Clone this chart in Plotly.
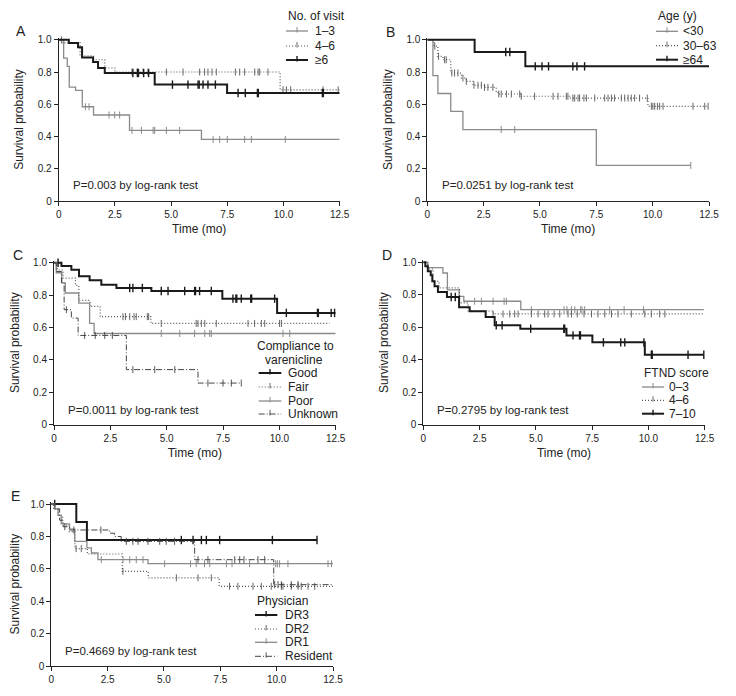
import plotly.graph_objects as go

W, H = 736, 696
FONT = "Liberation Sans, Arial, sans-serif"

# ---------------- data ----------------
X_TICKS = [0, 2.5, 5.0, 7.5, 10.0, 12.5]
X_TICKTEXT = ["0", "2.5", "5.0", "7.5", "10.0", "12.5"]
Y_TICKS = [0, 0.2, 0.4, 0.6, 0.8, 1.0]
Y_TICKTEXT = ["0", "0.2", "0.4", "0.6", "0.8", "1.0"]

# Panel A : No. of visit
A_13_t = [0, 0.22, 0.38, 0.47, 0.75, 1.05, 1.55, 3.15, 6.35]
A_13_s = [1.0, 0.886, 0.835, 0.707, 0.687, 0.585, 0.534, 0.439, 0.383]
A_13_end = 12.5
A_13_cens = [1.19, 1.35, 2.24, 2.49, 2.71, 3.26, 3.68, 4.2, 4.27, 4.79, 5.38,
             6.87, 7.16, 7.5, 8.27, 8.57, 10.08]
A_46_t = [0, 0.15, 0.95, 1.55, 2.05, 2.5, 9.85]
A_46_s = [1.0, 0.98, 0.9, 0.876, 0.825, 0.80, 0.69]
A_46_end = 12.5
A_46_cens = [0.12, 3.26, 3.5, 3.75, 3.97, 4.79, 5.53, 6.27, 6.49, 6.64, 6.82, 7.01,
             7.86, 8.05, 8.27, 8.72, 8.87, 8.94, 9.31, 9.98, 10.13, 10.32, 11.76, 12.43]
A_6_t = [0, 0.45, 0.86, 1.04, 1.53, 1.75, 2.05, 4.27, 7.49]
A_6_s = [1.0, 0.979, 0.953, 0.89, 0.862, 0.825, 0.794, 0.722, 0.67]
A_6_end = 12.5
A_6_cens = [3.3, 3.5, 3.55, 3.78, 4.0, 5.06, 5.75, 6.2, 6.25, 6.42, 6.64, 6.97,
            7.98, 8.3, 8.84, 8.88, 11.73, 11.77]

# Panel B : Age (y)
B_30_t = [0, 0.25, 0.47, 1.04, 1.58, 7.5]
B_30_s = [1.0, 0.778, 0.667, 0.556, 0.444, 0.222]
B_30_end = 11.69
B_30_cens = [3.28, 3.88, 11.69]
B_3063_t = [0, 0.3, 0.47, 0.7, 1.04, 1.51, 1.73, 2.03, 2.54, 3.06, 3.14, 4.17, 6.32, 9.79]
B_3063_s = [1.0, 0.96, 0.897, 0.876, 0.794, 0.763, 0.742, 0.718, 0.705, 0.68, 0.664,
            0.65, 0.639, 0.588]
B_3063_end = 12.45
B_3063_cens = [0.33, 0.5, 0.77, 0.84, 1.09, 1.21, 1.36, 1.58, 1.73, 2.07, 2.25, 2.4,
               2.54, 2.69, 2.91, 3.17, 3.28, 3.51, 3.73, 4.1, 4.17, 4.76, 5.58, 5.8,
               6.17, 6.24, 6.46, 6.54, 6.69, 6.76, 6.95, 7.06, 7.43, 7.87, 8.02, 8.17,
               8.31, 8.61, 8.76, 8.91, 9.05, 9.2, 9.42, 9.76, 9.94, 10.01, 10.09,
               10.21, 10.31, 10.46, 11.79, 12.31, 12.46]
B_64_t = [0, 2.1, 4.35]
B_64_s = [1.0, 0.924, 0.835]
B_64_end = 12.5
B_64_cens = [3.48, 3.66, 4.79, 5.09, 5.38, 6.46, 6.64, 6.98]

# Panel C : Compliance to varenicline
C_good_t = [0, 0.33, 0.77, 1.11, 1.58, 2.1, 2.77, 4.32, 7.47, 9.9]
C_good_s = [1.0, 0.979, 0.957, 0.916, 0.891, 0.864, 0.844, 0.825, 0.778, 0.69]
C_good_end = 12.5
C_good_cens = [0.18, 3.36, 3.5, 3.92, 4.76, 5.06, 5.8, 6.24, 6.28, 6.46, 6.98, 7.94,
               8.07, 8.11, 8.31, 8.73, 8.77, 9.79, 10.31, 11.69, 11.73, 12.3, 12.45]
C_fair_t = [0, 0.15, 0.4, 0.95, 1.1, 1.6, 2.05, 4.3]
C_fair_s = [1.0, 0.955, 0.905, 0.86, 0.767, 0.73, 0.667, 0.625]
C_fair_end = 12.23
C_fair_cens = [3.06, 3.17, 3.36, 3.55, 3.65, 4.14, 4.2, 4.76, 6.31, 6.39, 6.54, 6.69,
               7.2, 8.61, 8.9, 9.2, 9.35, 10.01, 10.09]
C_poor_t = [0, 0.1, 0.35, 0.5, 1.1, 1.58, 1.78]
C_poor_s = [1.0, 0.938, 0.875, 0.813, 0.75, 0.625, 0.563]
C_poor_end = 12.5
C_poor_cens = [4.76, 5.58, 6.24, 6.69, 6.91, 6.98, 10.16, 10.46]
C_unk_t = [0, 0.1, 0.33, 0.45, 0.77, 1.07, 3.21, 6.39]
C_unk_s = [1.0, 0.946, 0.875, 0.71, 0.658, 0.551, 0.34, 0.257]
C_unk_end = 8.31
C_unk_cens = [0.55, 1.36, 1.83, 2.25, 2.59, 3.5, 4.47, 5.36, 6.83, 7.5, 7.87, 8.31]

# Panel D : FTND score
D_03_t = [0, 0.2, 0.87, 1.07, 1.59, 1.8, 4.33]
D_03_s = [1.0, 0.967, 0.934, 0.83, 0.79, 0.76, 0.708]
D_03_end = 12.46
D_03_cens = [2.28, 2.58, 3.1, 3.59, 3.69, 4.8, 6.25, 6.38, 6.58, 6.73, 6.99, 7.05,
             7.17, 8.28, 8.92, 9.78]
D_46_t = [0, 0.2, 0.43, 0.7, 1.61, 1.99, 3.1]
D_46_s = [1.0, 0.96, 0.883, 0.842, 0.75, 0.70, 0.682]
D_46_end = 12.46
D_46_cens = [3.1, 3.54, 3.84, 4.06, 4.21, 4.8, 5.1, 5.39, 5.54, 5.81, 6.06, 6.43,
             6.58, 6.84, 7.14, 7.47, 7.76, 8.06, 8.36, 8.65, 9.24, 9.84, 10.13,
             10.5, 10.73]
D_710_t = [0, 0.09, 0.2, 0.33, 0.4, 0.5, 0.65, 1.05, 1.59, 2.06, 2.77, 3.17, 4.31,
           6.36, 7.51, 9.84]
D_710_s = [1.0, 0.975, 0.945, 0.92, 0.883, 0.852, 0.817, 0.786, 0.723, 0.698, 0.663,
           0.612, 0.591, 0.55, 0.507, 0.431]
D_710_end = 12.46
D_710_cens = [1.24, 1.42, 3.24, 3.5, 4.77, 6.24, 6.28, 6.65, 6.94, 6.98, 8.0, 8.77,
              8.95, 9.8, 10.13, 10.17, 11.76, 12.46]

# Panel E : Physician
E_dr3_t = [0, 1.11, 1.58]
E_dr3_s = [1.0, 0.889, 0.778]
E_dr3_end = 11.79
E_dr3_cens = [0.15, 5.77, 6.29, 6.66, 6.88, 7.47, 9.81, 11.79]
E_dr2_t = [0, 0.1, 0.3, 0.5, 0.8, 1.05, 1.6, 3.15, 4.3, 7.45]
E_dr2_s = [1.0, 0.97, 0.93, 0.87, 0.83, 0.725, 0.692, 0.585, 0.545, 0.493]
E_dr2_end = 12.5
E_dr2_cens = [1.1, 1.33, 3.18, 5.55, 6.51, 7.1, 7.91, 8.28, 8.95, 9.32, 9.76, 10.21,
              10.28, 10.65, 10.95, 11.09, 11.39, 11.69]
E_dr1_t = [0, 0.15, 0.3, 0.44, 0.81, 1.04, 1.58, 1.78, 2.07, 4.29]
E_dr1_s = [1.0, 0.97, 0.93, 0.877, 0.845, 0.77, 0.73, 0.698, 0.657, 0.632]
E_dr1_end = 12.5
E_dr1_cens = [2.22, 3.18, 3.48, 3.77, 4.07, 5.03, 6.18, 6.43, 6.8, 7.03, 7.77, 8.02,
              8.8, 9.96, 10.03, 10.13, 10.5, 12.28, 12.43]
E_res_t = [0, 0.15, 0.37, 0.52, 0.81, 2.59, 2.81, 3.1, 6.36, 9.87]
E_res_s = [1.0, 0.97, 0.9, 0.86, 0.84, 0.82, 0.8, 0.77, 0.657, 0.503]
E_res_end = 12.5
E_res_cens = [0.6, 1.0, 2.2, 3.33, 3.62, 3.85, 4.29, 4.81, 5.1, 5.47, 6.51, 6.95,
              8.14, 8.36, 8.55, 9.17, 9.47, 9.91, 10.06, 10.21, 10.65, 10.95]

P_TEXTS = ["P=0.003 by log-rank test", "P=0.0251 by log-rank test",
           "P=0.0011 by log-rank test", "P=0.2795 by log-rank test",
           "P=0.4669 by log-rank test"]
PANEL_LETTERS = ["A", "B", "C", "D", "E"]

# ---------------- styles ----------------
STY = {
    "gray": dict(color="#8a8a8a", width=1.3, dash="solid", msize=5, mw=1.0),
    "dot": dict(color="#555555", width=1.2, dash="1px,2px", msize=5, mw=0.9),
    "black": dict(color="#1a1a1a", width=2.0, dash="solid", msize=6, mw=1.4),
    "dashdot": dict(color="#444444", width=1.0, dash="6px,2px,1px,2px", msize=5, mw=0.9),
}

panels = [
    dict(box=(50.7, 331.7, 31.7, 193.3), xtitle=True, legtitle=["No. of visit"],
         leg=dict(tx=278, ty=[8], ys=[23, 38, 52], lx0=278, lx1=300, labx=305),
         letter=(13, 23), ptext=(63, 177),
         groups=[("1–3", "gray", A_13_t, A_13_s, A_13_end, A_13_cens),
                 ("4–6", "dot", A_46_t, A_46_s, A_46_end, A_46_cens),
                 ("≥6", "black", A_6_t, A_6_s, A_6_end, A_6_cens)]),
    dict(box=(419.3, 701.0, 31.7, 193.3), xtitle=True, legtitle=["Age (y)"],
         leg=dict(tx=648, ty=[8], ys=[23.3, 37.7, 51.7], lx0=648, lx1=670, labx=673),
         letter=(383, 24), ptext=(432, 177),
         groups=[("<30", "gray", B_30_t, B_30_s, B_30_end, B_30_cens),
                 ("30–63", "dot", B_3063_t, B_3063_s, B_3063_end, B_3063_cens),
                 ("≥64", "black", B_64_t, B_64_s, B_64_end, B_64_cens)]),
    dict(box=(46.0, 327.7, 254.7, 416.7), xtitle=True,
         legtitle=["Compliance to", "varenicline"],
         leg=dict(tx=[287.5, 285.5], ty=[338.3, 351.7], ys=[365, 379, 393, 406],
                  lx0=250.7, lx1=273.3, labx=278.3, center=True),
         letter=(10, 247), ptext=(58, 401.7),
         groups=[("Good", "black", C_good_t, C_good_s, C_good_end, C_good_cens),
                 ("Fair", "dot", C_fair_t, C_fair_s, C_fair_end, C_fair_cens),
                 ("Poor", "gray", C_poor_t, C_poor_s, C_poor_end, C_poor_cens),
                 ("Unknown", "dashdot", C_unk_t, C_unk_s, C_unk_end, C_unk_cens)]),
    dict(box=(415.3, 696.7, 254.3, 416.7), xtitle=True, legtitle=["FTND score"],
         leg=dict(tx=634, ty=[365], ys=[379, 392.3, 405.7], lx0=634, lx1=656, labx=659.3),
         letter=(379, 247), ptext=(427, 401.7),
         groups=[("0–3", "gray", D_03_t, D_03_s, D_03_end, D_03_cens),
                 ("4–6", "dot", D_46_t, D_46_s, D_46_end, D_46_cens),
                 ("7–10", "black", D_710_t, D_710_s, D_710_end, D_710_cens)]),
    dict(box=(43.3, 325.0, 496.0, 658.3), xtitle=False, legtitle=["Physician"],
         leg=dict(tx=247, ty=[593.3], ys=[607, 621, 634.3, 648.3], lx0=247, lx1=269.3,
                  labx=275),
         letter=(7, 488), ptext=(55, 642.7),
         groups=[("DR3", "black", E_dr3_t, E_dr3_s, E_dr3_end, E_dr3_cens),
                 ("DR2", "dot", E_dr2_t, E_dr2_s, E_dr2_end, E_dr2_cens),
                 ("DR1", "gray", E_dr1_t, E_dr1_s, E_dr1_end, E_dr1_cens),
                 ("Resident", "dashdot", E_res_t, E_res_s, E_res_end, E_res_cens)]),
]


def surv_at(ts, ss, x):
    v = ss[0]
    for t, s in zip(ts, ss):
        if x >= t:
            v = s
        else:
            break
    return v


def px(x):
    return x / W


def py(y):
    return 1 - y / H


YMAX = 1.012
fig = go.Figure()
layout = dict(width=W, height=H, margin=dict(l=0, r=0, t=0, b=0),
              paper_bgcolor="white", plot_bgcolor="white", showlegend=False,
              font=dict(family=FONT, size=12, color="#222222"))
shapes, annotations = [], []

for i, p in enumerate(panels):
    k = "" if i == 0 else str(i + 1)
    xa, ya = "x" + k, "y" + k
    x0, x1, ytop, ybot = p["box"]
    ytop_ext = ybot - (ybot - ytop) * YMAX
    layout["xaxis" + k] = dict(
        domain=[px(x0), px(x1)], anchor=ya, range=[0, 12.5],
        tickvals=X_TICKS, ticktext=X_TICKTEXT, ticks="outside", ticklen=4,
        tickwidth=1, tickcolor="#222", showline=True, linecolor="#222", linewidth=1,
        showgrid=False, zeroline=False, tickfont=dict(size=10, family=FONT),
        title=dict(text="Time (mo)" if p["xtitle"] else "", standoff=5,
                   font=dict(size=12)),
        automargin=False)
    layout["yaxis" + k] = dict(
        domain=[py(ybot), py(ytop_ext)], anchor=xa, range=[0, YMAX],
        tickvals=Y_TICKS, ticktext=Y_TICKTEXT, ticks="outside", ticklen=4,
        tickwidth=1, tickcolor="#222", showline=True, linecolor="#222", linewidth=1,
        showgrid=False, zeroline=False, tickfont=dict(size=10, family=FONT),
        title=dict(text="Survival probability", standoff=11, font=dict(size=12)),
        automargin=False)

    for name, sty, ts, ss, tend, cens in p["groups"]:
        st = STY[sty]
        fig.add_trace(go.Scatter(
            x=list(ts) + [tend], y=list(ss) + [ss[-1]], mode="lines",
            line=dict(shape="hv", color=st["color"], width=st["width"], dash=st["dash"]),
            xaxis=xa, yaxis=ya, name=name, hoverinfo="skip"))
        fig.add_trace(go.Scatter(
            x=cens, y=[surv_at(ts, ss, c) for c in cens], mode="markers",
            marker=dict(symbol="line-ns", size=st["msize"],
                        line=dict(color=st["color"], width=st["mw"])),
            xaxis=xa, yaxis=ya, name=name + " censored", cliponaxis=False,
            hoverinfo="skip"))

    # panel letter
    lx, ly = p["letter"]
    annotations.append(dict(x=px(lx), y=py(ly), xref="paper", yref="paper",
                            text=PANEL_LETTERS[i], showarrow=False, xanchor="center",
                            yanchor="middle", font=dict(size=14, family=FONT, color="#222")))
    # p value text
    tx, ty = p["ptext"]
    annotations.append(dict(x=px(tx), y=py(ty), xref="paper", yref="paper",
                            text=P_TEXTS[i], showarrow=False, xanchor="left",
                            yanchor="middle", font=dict(size=11.5, family=FONT, color="#222")))
    # legend
    lg = p["leg"]
    if lg.get("center"):
        for t, cx, cy in zip(p["legtitle"], lg["tx"], lg["ty"]):
            annotations.append(dict(x=px(cx), y=py(cy), xref="paper", yref="paper",
                                    text=t, showarrow=False, xanchor="center",
                                    yanchor="middle", font=dict(size=12, color="#222")))
    else:
        annotations.append(dict(x=px(lg["tx"]), y=py(lg["ty"][0]), xref="paper",
                                yref="paper", text=p["legtitle"][0], showarrow=False,
                                xanchor="left", yanchor="middle",
                                font=dict(size=12, color="#222")))
    for (name, sty, *_), yy in zip(p["groups"], lg["ys"]):
        st = STY[sty]
        shapes.append(dict(type="line", xref="paper", yref="paper",
                           x0=px(lg["lx0"]), x1=px(lg["lx1"]), y0=py(yy), y1=py(yy),
                           line=dict(color=st["color"], width=st["width"], dash=st["dash"])))
        mx = (lg["lx0"] + lg["lx1"]) / 2
        shapes.append(dict(type="line", xref="paper", yref="paper",
                           x0=px(mx), x1=px(mx), y0=py(yy - 4), y1=py(yy + 1.5),
                           line=dict(color=st["color"], width=st["mw"])))
        annotations.append(dict(x=px(lg["labx"]), y=py(yy), xref="paper", yref="paper",
                                text=name, showarrow=False, xanchor="left",
                                yanchor="middle", font=dict(size=12, color="#222")))

layout["shapes"] = shapes
layout["annotations"] = annotations
fig.update_layout(**layout)
fig.write_html("out.html")
